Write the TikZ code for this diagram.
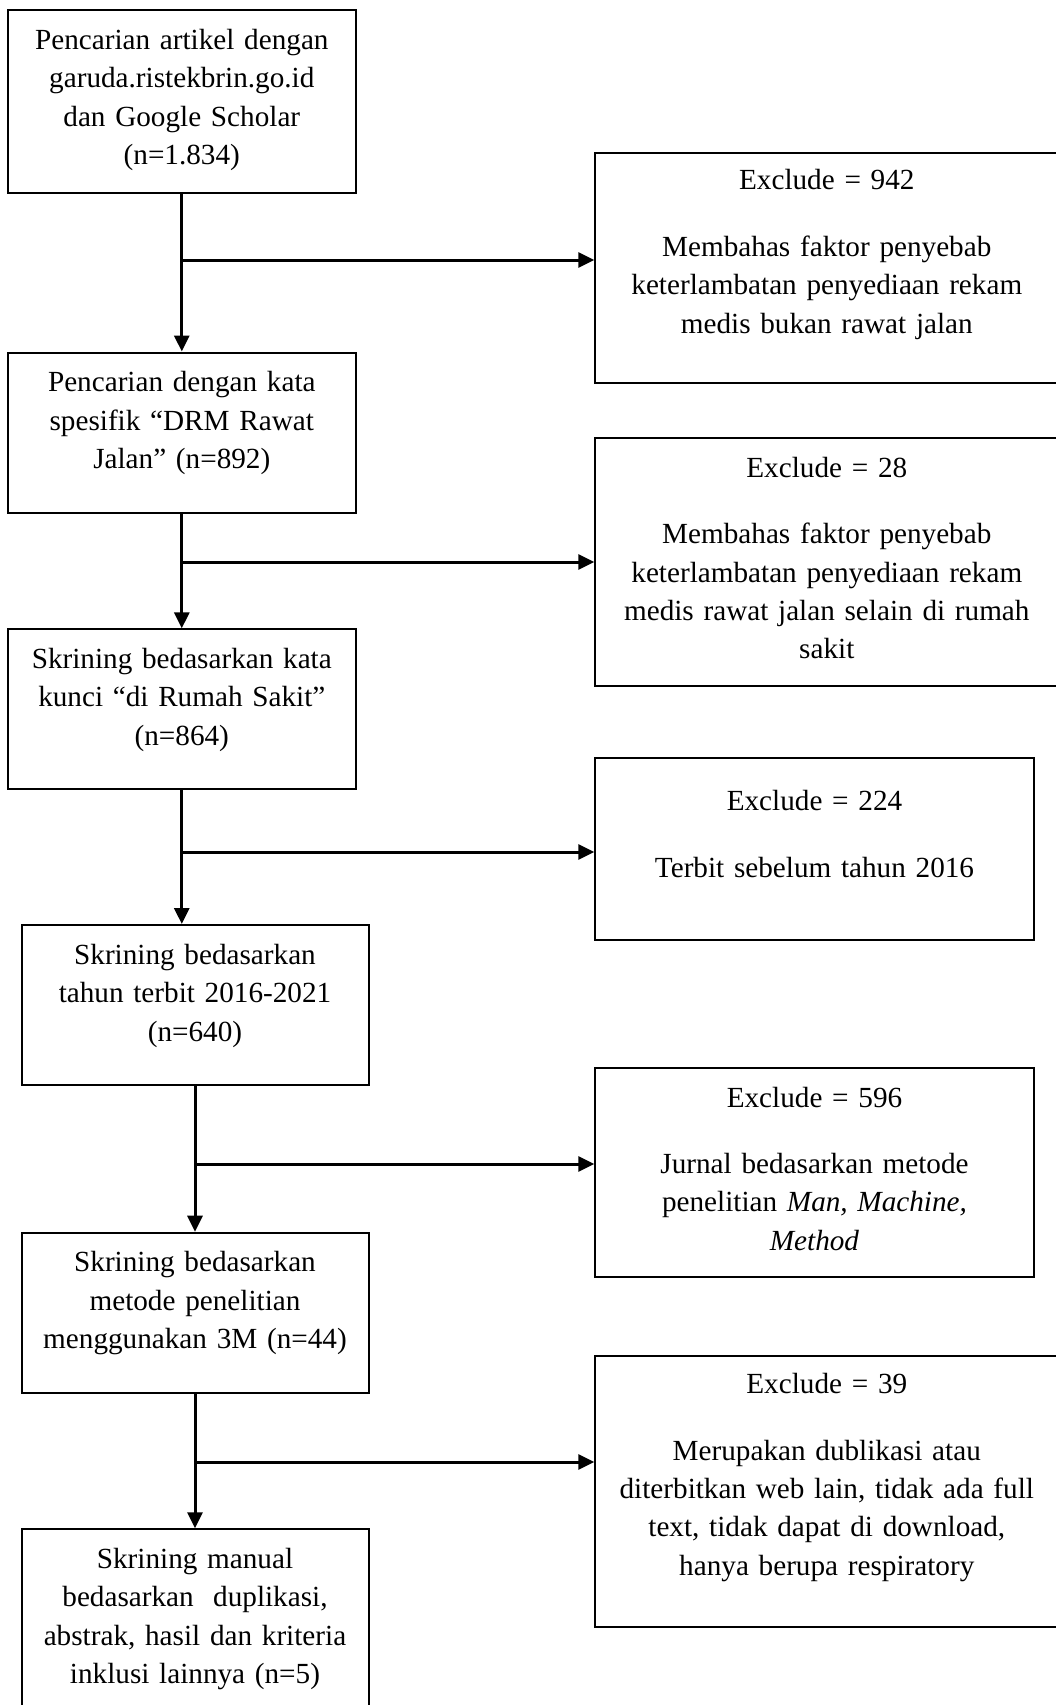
\documentclass[tikz,border=0pt]{standalone}
\usepackage{fontspec}
\setmainfont{Liberation Serif}
\usetikzlibrary{arrows.meta}

\begin{document}
\begin{tikzpicture}[x=0.5pt, y=-0.5pt,
    box/.style={draw, line width=1pt, align=center, anchor=north, inner xsep=3pt, inner ysep=0pt,
        font=\fontsize{14.6pt}{19.2pt}\selectfont},
    flow/.style={line width=1.5pt, -{Triangle[length=8pt, width=7.5pt]}}]
    \useasboundingbox (0,0) rectangle (1056,1705);

    % Screening steps
    \node[box, text width=168pt, text height=19.6pt, text depth=71.6pt] (search) at (181.8,9.3)
        {Pencarian artikel dengan\\ garuda.ristekbrin.go.id\\ dan Google Scholar\\ (n=1.834)};
    \node[box, text width=168pt, text height=19.6pt, text depth=60.4pt] (keyword) at (181.8,351.5)
        {Pencarian dengan kata\\ spesifik ``DRM Rawat\\ Jalan'' (n=892)};
    \node[box, text width=168pt, text height=19.6pt, text depth=60.4pt] (hospital) at (181.8,628.3)
        {Skrining bedasarkan kata\\ kunci ``di Rumah Sakit''\\ (n=864)};
    \node[box, text width=167.5pt, text height=19.6pt, text depth=60.4pt] (year) at (195,924)
        {Skrining bedasarkan\\ tahun terbit 2016-2021\\ (n=640)};
    \node[box, text width=167.5pt, text height=19.6pt, text depth=60.7pt] (method) at (195,1231.7)
        {Skrining bedasarkan\\ metode penelitian\\ menggunakan 3M (n=44)};
    \node[box, text width=167.5pt, text height=19.6pt, text depth=80.4pt] (manual) at (195,1528.3)
        {Skrining manual\\ bedasarkan\ \ duplikasi,\\ abstrak, hasil dan kriteria\\ inklusi lainnya (n=5)};

    % Excluded articles
    \node[box, text width=225.5pt, text height=18.6pt, text depth=96.4pt] (ex1) at (826.8,151.7)
        {Exclude = 942\\[14pt] Membahas faktor penyebab\\ keterlambatan penyediaan rekam\\ medis bukan rawat jalan};
    \node[box, text width=225.5pt, text height=19.5pt, text depth=104.3pt] (ex2) at (826.8,437.3)
        {Exclude = 28\\[14pt] Membahas faktor penyebab\\ keterlambatan penyediaan rekam\\ medis rawat jalan selain di rumah\\ sakit};
    \node[box, text width=213.2pt, text height=26.2pt, text depth=64.8pt] (ex3) at (814.5,757.3)
        {Exclude = 224\\[14pt] Terbit sebelum tahun 2016};
    \node[box, text width=213.2pt, text height=19.4pt, text depth=84.8pt] (ex4) at (814.5,1067.3)
        {Exclude = 596\\[14pt] Jurnal bedasarkan metode\\ penelitian \textit{Man, Machine,}\\ \textit{Method}};
    \node[box, text width=225.5pt, text height=18.8pt, text depth=116.6pt] (ex5) at (826.8,1355)
        {Exclude = 39\\[14pt] Merupakan dublikasi atau\\ diterbitkan web lain, tidak ada full\\ text, tidak dapat di download,\\ hanya berupa respiratory};

    % Main flow
    \draw[flow] (search.south) -- (keyword.north);
    \draw[flow] (keyword.south) -- (hospital.north);
    \draw[flow] (hospital.south) -- (hospital.south |- year.north);
    \draw[flow] (year.south) -- (method.north);
    \draw[flow] (method.south) -- (manual.north);

    % Branches to exclusions
    \coordinate (j1) at (search.south |- 0,260);
    \coordinate (j2) at (keyword.south |- 0,562);
    \coordinate (j3) at (hospital.south |- 0,852);
    \coordinate (j4) at (year.south |- 0,1164);
    \coordinate (j5) at (method.south |- 0,1462);
    \draw[flow] (j1) -- (j1 -| ex1.west);
    \draw[flow] (j2) -- (j2 -| ex2.west);
    \draw[flow] (j3) -- (j3 -| ex3.west);
    \draw[flow] (j4) -- (j4 -| ex4.west);
    \draw[flow] (j5) -- (j5 -| ex5.west);
\end{tikzpicture}
\end{document}
